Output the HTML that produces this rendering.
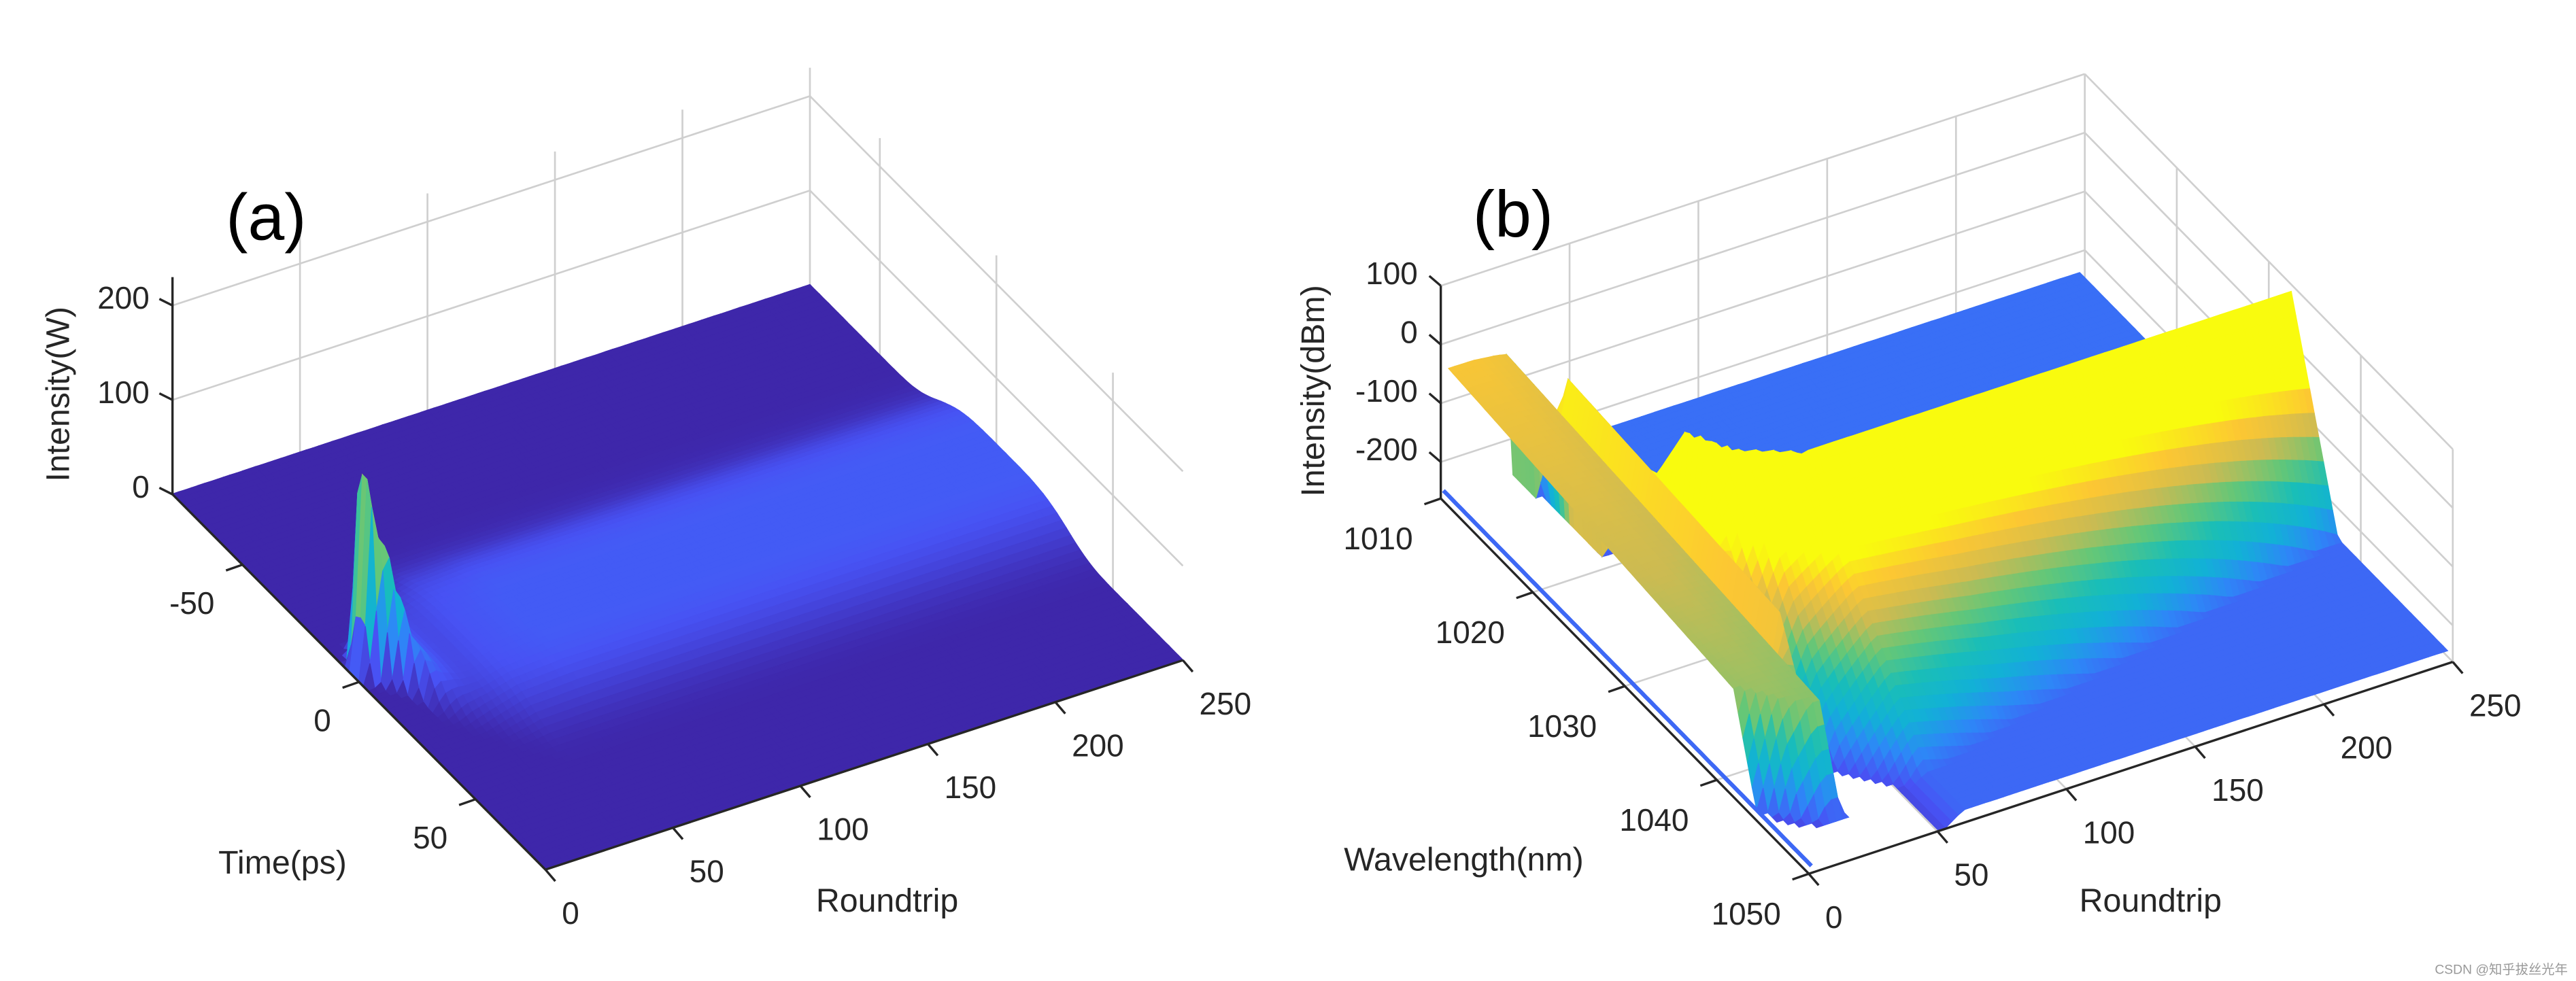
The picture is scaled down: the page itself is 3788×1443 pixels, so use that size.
<!DOCTYPE html>
<html><head><meta charset="utf-8">
<style>
html,body{margin:0;padding:0;background:#fff;}
svg{display:block;}
text{font-family:"Liberation Sans","Noto Sans CJK SC",sans-serif;fill:#262626;}
</style></head>
<body>
<svg id="fig" width="3788" height="1443" viewBox="0 0 1568 597.3" preserveAspectRatio="none">
<g id="gridA"></g>
<g id="surfA"></g>
<g id="axesA"></g>
<g id="gridB"></g>
<g id="surfB"></g>
<g id="axesB"></g>
<text x="162" y="146" font-size="40" text-anchor="middle" style="fill:#000">(a)</text>
<text x="921" y="144" font-size="40" text-anchor="middle" style="fill:#000">(b)</text>
<text transform="translate(42,240) rotate(-90)" font-size="20" text-anchor="middle">Intensity(W)</text>
<text x="172" y="532" font-size="20" text-anchor="middle">Time(ps)</text>
<text x="540" y="555" font-size="20" text-anchor="middle">Roundtrip</text>
<text transform="translate(806,238) rotate(-90)" font-size="20" text-anchor="middle">Intensity(dBm)</text>
<text x="891" y="530" font-size="20" text-anchor="middle">Wavelength(nm)</text>
<text x="1309" y="555" font-size="20" text-anchor="middle">Roundtrip</text>
<text x="1563" y="593" font-size="8" text-anchor="end" style="fill:#999">CSDN @知乎拔丝光年</text>
</svg>
<script>
// ---------- Panel (a) data ----------
const rtA     = [0, 2.5, 5, 7.5, 10, 12.5, 15, 20, 25, 30, 40, 60, 100, 150, 200, 250];
const peakA   = [0.5, 60, 205, 150, 135, 90, 50, 30, 22, 20, 26, 30, 30, 30, 30, 30];
const widthA  = [2, 4, 5, 7, 8, 10, 14, 18, 22, 26, 30, 30, 30, 30, 30, 30];
const centerA = [0, -2, -3, -3, -2, 0, 2, 3, 3, 3, 3, 3, 3, 3, 3, 3];
const zTicksA = [0, 100, 200];
const tTicksA = [-50, 0, 50];
const rTicks  = [0, 50, 100, 150, 200, 250];
// ---------- Panel (b) data ----------
const rtB        = [3, 12, 22, 27, 30, 40, 60, 100, 150, 200, 250];
const riseStart  = [1009, 1009, 1009, 1009, 1018, 1020, 1022, 1022, 1022, 1022, 1022];
const peakLam    = [1010, 1010, 1010, 1010, 1028, 1031, 1033, 1033, 1033, 1033, 1033];
const peakDbm    = [-45, -45, -50, -55, 100, 100, 100, 100, 100, 100, 100];
const flatEnd    = [1041, 1043, 1044, 1044, 1029, 1032, 1033, 1033, 1033, 1033, 1033];
const endDbm     = [-95, -95, -100, -100, 100, 100, 100, 100, 100, 100, 100];
const rollNm     = [3, 3, 3, 3, 12, 12, 13, 11, 9, 7, 5];
const floorShort = [-300, -300, -300, -300, -300, -235, -235, -235, -235, -235, -235];
const floorLong  = [-300, -300, -300, -300, -300, -300, -240, -240, -240, -240, -240];
const zTicksB = [100, 0, -100, -200];
const lTicksB = [1010, 1020, 1030, 1040, 1050];

const SVGNS = document.getElementById('fig').namespaceURI;
function el(tag, parent){ const e=document.createElementNS(SVGNS,tag); parent.appendChild(e); return e; }

const PAR=[[0,.2422,.1504,.6603],[.127,.2810,.3228,.9579],[.254,.1786,.5289,.9682],[.381,.0689,.6948,.8394],[.508,.1,.745,.72],[.635,.39,.78,.47],[.762,.8,.733,.32],[.889,.99,.78,.2],[1,.9763,.9831,.0538]];
function parula(v){ v=Math.max(0,Math.min(1,v)); for(let i=1;i<PAR.length;i++){ if(v<=PAR[i][0]){ const a=PAR[i-1],b=PAR[i],f=(v-a[0])/(b[0]-a[0]); return 'rgb('+[1,2,3].map(k=>Math.round(255*(a[k]+(b[k]-a[k])*f))).join(',')+')'; } } return 'rgb(249,251,14)'; }
function interp(xs, ys, x){ if(x<=xs[0]) return ys[0]; for(let i=1;i<xs.length;i++){ if(x<=xs[i]){ const f=(x-xs[i-1])/(xs[i]-xs[i-1]); return ys[i-1]+(ys[i]-ys[i-1])*f; } } return ys[ys.length-1]; }
function line(g,p,q,stroke,w){ const l=el('line',g); l.setAttribute('x1',p[0]); l.setAttribute('y1',p[1]); l.setAttribute('x2',q[0]); l.setAttribute('y2',q[1]); l.setAttribute('stroke',stroke); l.setAttribute('stroke-width',w); return l; }
function txt(g,x,y,s,anchor,size){ const t=el('text',g); t.setAttribute('x',x); t.setAttribute('y',y); t.setAttribute('font-size',size); t.setAttribute('text-anchor',anchor); t.textContent=s; return t; }

const A={tMin:-80,tMax:80,rMax:250,zMax:230};
function pA(r,t,z){ const fr=r/A.rMax, ft=(t-A.tMin)/(A.tMax-A.tMin); return [105+fr*388+ft*227, 301-fr*127.5+ft*228.5-z*0.575]; }
const B={lMin:1010,lMax:1050,rMax:250,zMin:-262,zMax:100};
function pB(r,l,z){ const fr=r/B.rMax, fl=(l-B.lMin)/(B.lMax-B.lMin); return [877+fr*392+fl*224, 303.5-fr*129+fl*228.5-(z-B.zMin)*0.3577]; }

const GRID='#cfcfcf', AX='#262626';
(function(){
  const g=document.getElementById('gridA');
  zTicksA.filter(z=>z>0).forEach(z=>{
    const l1=line(g,pA(0,A.tMin,z),pA(250,A.tMin,z),GRID,1.1);
    
    
    const l2=line(g,pA(250,A.tMin,z),pA(250,A.tMax,z),GRID,1.1);
    
    
  });
  rTicks.filter(r=>r>0).forEach(r=>{
    const l=line(g,pA(r,A.tMin,0),pA(r,A.tMin,A.zMax),GRID,1.1);
    
    
  });
  tTicksA.forEach(t=>{
    const l=line(g,pA(250,t,0),pA(250,t,A.zMax),GRID,1.1);
    
    
  });
})();
(function(){
  const g=document.getElementById('surfA');
  const rs=[],ts=[];
  for(let r=0;r<=250.001;r+=2.5) rs.push(r);
  for(let t=A.tMin;t<=A.tMax+0.001;t+=2) ts.push(t);
  const Z=rs.map(r=>{ const pk=interp(rtA,peakA,r), w=interp(rtA,widthA,r), c=interp(rtA,centerA,r);
    return ts.map(t=>0.5+pk*Math.exp(-Math.pow(Math.abs((t-c)/w),4))); });
  const quads=[];
  for(let i=0;i<rs.length-1;i++) for(let j=0;j<ts.length-1;j++) quads.push({i,j,k:(j/(ts.length-1))-(i/(rs.length-1))});
  quads.sort((a,b)=>a.k-b.k);
  quads.forEach(q=>{
    const i=q.i,j=q.j;
    const z=[Z[i][j],Z[i+1][j],Z[i+1][j+1],Z[i][j+1]];
    const pts=[pA(rs[i],ts[j],z[0]),pA(rs[i+1],ts[j],z[1]),pA(rs[i+1],ts[j+1],z[2]),pA(rs[i],ts[j+1],z[3])];
    const col=parula(((z[0]+z[1]+z[2]+z[3])/4)/205);
    const p=el('polygon',g);
    p.setAttribute('points',pts.map(v=>v[0].toFixed(1)+','+v[1].toFixed(1)).join(' '));
    p.setAttribute('fill',col); p.setAttribute('stroke',col); p.setAttribute('stroke-width','0.5');
    
    
  });
})();
(function(){
  const g=document.getElementById('axesA');
  let l=line(g,pA(0,A.tMin,0),pA(0,A.tMin,A.zMax),AX,1.4);
  
  
  l=line(g,pA(0,A.tMin,0),pA(0,A.tMax,0),AX,1.4);
  
  
  l=line(g,pA(0,A.tMax,0),pA(250,A.tMax,0),AX,1.4);
  
  
  zTicksA.forEach(z=>{ const p=pA(0,A.tMin,z);
    const tk=line(g,p,[p[0]-8,p[1]-4],AX,1.4);
    
    
    const t=txt(g,p[0]-14,p[1]+2,String(z),'end',19);
    
    
  });
  tTicksA.forEach(tv=>{ const p=pA(0,tv,0);
    const tk=line(g,p,[p[0]-10,p[1]+3.5],AX,1.4);
    
    
    const t=txt(g,p[0]-17,p[1]+30,String(tv),'end',19);
    
    
  });
  rTicks.forEach(r=>{ const p=pA(r,A.tMax,0);
    const tk=line(g,p,[p[0]+6,p[1]+7],AX,1.4);
    
    
    const t=txt(g,p[0]+10,p[1]+33,String(r),'start',19);
    
    
  });
})();
(function(){
  const g=document.getElementById('gridB');
  zTicksB.forEach(z=>{
    const l1=line(g,pB(0,B.lMin,z),pB(250,B.lMin,z),GRID,1.1);
    
    
    const l2=line(g,pB(250,B.lMin,z),pB(250,B.lMax,z),GRID,1.1);
    
    
  });
  rTicks.filter(r=>r>0).forEach(r=>{
    const l=line(g,pB(r,B.lMin,B.zMin),pB(r,B.lMin,B.zMax),GRID,1.1);
    
    
    const f=line(g,pB(r,B.lMin,B.zMin),pB(r,B.lMax,B.zMin),GRID,1.1);
    
    
  });
  lTicksB.filter(v=>v>B.lMin).forEach(v=>{
    const l=line(g,pB(250,v,B.zMin),pB(250,v,B.zMax),GRID,1.1);
    
    
    const f=line(g,pB(0,v,B.zMin),pB(250,v,B.zMin),GRID,1.1);
    
    
  });
})();
function specB(r,l){
  const rs=interp(rtB,riseStart,r), pl=interp(rtB,peakLam,r), pk=interp(rtB,peakDbm,r),
        fe=interp(rtB,flatEnd,r), ed=interp(rtB,endDbm,r), ro=interp(rtB,rollNm,r),
        fs=interp(rtB,floorShort,r), fL=interp(rtB,floorLong,r);
  let z;
  if(l<rs) z=fs;
  else if(l<pl) z=fs+(pk-fs)*(l-rs)/(pl-rs);
  else if(l<=fe) z=(fe>pl)? pk+(ed-pk)*(l-pl)/(fe-pl) : pk;
  else if(l<fe+ro) z=ed+(fL-ed)*(l-fe)/ro;
  else z=fL;
  return Math.min(z,B.zMax);
}
(function(){
  const g=document.getElementById('surfB');
  const rs=[],ls=[];
  for(let r=3;r<=250.001;r+=2.5) rs.push(r);
  for(let l=B.lMin;l<=B.lMax+0.001;l+=0.5) ls.push(l);
  const Z=rs.map(r=>ls.map(l=>specB(r,l)));
  const quads=[];
  for(let i=0;i<rs.length-1;i++) for(let j=0;j<ls.length-1;j++) quads.push({i,j,k:(j/(ls.length-1))-(i/(rs.length-1))});
  quads.sort((a,b)=>a.k-b.k);
  quads.forEach(q=>{
    const i=q.i,j=q.j;
    const raw=[Z[i][j],Z[i+1][j],Z[i+1][j+1],Z[i][j+1]];
    if(Math.max(...raw)<B.zMin) return;
    const z=raw.map(v=>Math.max(v,B.zMin));
    const pts=[pB(rs[i],ls[j],z[0]),pB(rs[i+1],ls[j],z[1]),pB(rs[i+1],ls[j+1],z[2]),pB(rs[i],ls[j+1],z[3])];
    const col=parula((Math.max(...z)*0.5+(z[0]+z[1]+z[2]+z[3])/8+290)/280);
    const p=el('polygon',g);
    p.setAttribute('points',pts.map(v=>v[0].toFixed(1)+','+v[1].toFixed(1)).join(' '));
    p.setAttribute('fill',col); p.setAttribute('stroke',col); p.setAttribute('stroke-width','0.5');
    
    
  });
  const pl=el('polyline',g);
  pl.setAttribute('points',ls.map(l=>pB(1,l,-250)).map(v=>v[0].toFixed(1)+','+v[1].toFixed(1)).join(' '));
  pl.setAttribute('fill','none'); pl.setAttribute('stroke',parula((-240+290)/280)); pl.setAttribute('stroke-width','2.5');
  
  
})();
(function(){
  const g=document.getElementById('axesB');
  let l=line(g,pB(0,B.lMin,B.zMin),pB(0,B.lMin,B.zMax),AX,1.4);
  
  
  l=line(g,pB(0,B.lMin,B.zMin),pB(0,B.lMax,B.zMin),AX,1.4);
  
  
  l=line(g,pB(0,B.lMax,B.zMin),pB(250,B.lMax,B.zMin),AX,1.4);
  
  
  zTicksB.forEach(z=>{ const p=pB(0,B.lMin,z);
    const tk=line(g,p,[p[0]-7,p[1]-6],AX,1.4);
    
    
    const t=txt(g,p[0]-14,p[1]-1,String(z),'end',19);
    
    
  });
  lTicksB.forEach(v=>{ const p=pB(0,v,B.zMin);
    const tk=line(g,p,[p[0]-10,p[1]+3.5],AX,1.4);
    
    
    const t=txt(g,p[0]-17,p[1]+31,String(v),'end',19);
    
    
  });
  rTicks.forEach(r=>{ const p=pB(r,B.lMax,B.zMin);
    const tk=line(g,p,[p[0]+6,p[1]+7],AX,1.4);
    
    
    const t=txt(g,p[0]+10,p[1]+33,String(r),'start',19);
    
    
  });
})();
</script>
</body></html>
